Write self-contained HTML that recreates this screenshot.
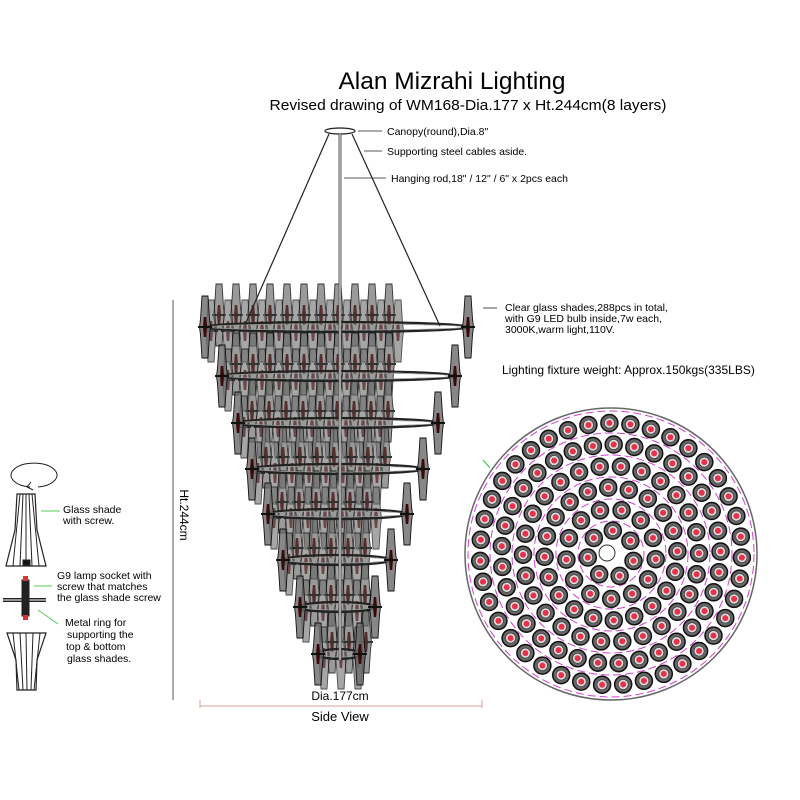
<!DOCTYPE html>
<html><head><meta charset="utf-8"><style>
html,body{margin:0;padding:0;background:#fff;}
svg{display:block;font-family:"Liberation Sans",sans-serif;}
</style></head><body>
<svg id="s" width="800" height="800" viewBox="0 0 800 800" xmlns="http://www.w3.org/2000/svg">
<defs>
<g id="shade">
<path d="M-3,-31 L3,-31 L4.5,-8 L5.5,0 L4.5,8 L3,31 L-3,31 L-4.5,8 L-5.5,0 L-4.5,-8 Z" fill="#6a6a6a" fill-opacity="0.8" stroke="#111" stroke-width="0.9"/>
<path d="M-1.2,-10 L1.2,-10 L2,0 L1.2,10 L-1.2,10 L-2,0Z" fill="#3a0a0a"/>
<line x1="-7" y1="0" x2="7" y2="0" stroke="#111" stroke-width="2"/>
</g>
<g id="dot">
<circle r="8.5" fill="#666" stroke="#111" stroke-width="1.5"/>
<circle r="5" fill="#ddd" stroke="#333" stroke-width="0.6"/>
<circle r="3" fill="#e8314a"/>
</g>
</defs>
<text x="452" y="89" font-size="24" text-anchor="middle" textLength="227" lengthAdjust="spacingAndGlyphs">Alan Mizrahi Lighting</text>
<text x="468" y="110" font-size="15" text-anchor="middle" textLength="397" lengthAdjust="spacingAndGlyphs">Revised drawing of WM168-Dia.177 x Ht.244cm(8 layers)</text>

<g id="side"></g>
<ellipse cx="340" cy="131" rx="15" ry="3" fill="#fff" stroke="#222" stroke-width="1.2"/>
<line x1="340" y1="134" x2="340" y2="660" stroke="#555" stroke-width="3"/>
<line x1="340" y1="134" x2="340" y2="660" stroke="#eee" stroke-width="1"/>
<line x1="329" y1="134" x2="245" y2="325" stroke="#222" stroke-width="1.2"/>
<line x1="352" y1="134" x2="440" y2="326" stroke="#222" stroke-width="1.2"/>

<g stroke="#222" stroke-width="0.8" font-size="10.5">
<line x1="358" y1="131" x2="382" y2="131"/><text x="387" y="135" stroke="none">Canopy(round),Dia.8"</text>
<line x1="364" y1="151" x2="382" y2="151"/><text x="387" y="155" stroke="none">Supporting steel cables aside.</text>
<line x1="344" y1="178" x2="386" y2="178"/><text x="391" y="182" stroke="none">Hanging rod,18" / 12" / 6" x 2pcs each</text>
<line x1="483" y1="308" x2="497" y2="308"/>
<text x="505" y="311" stroke="none">Clear glass shades,288pcs in total,</text>
<text x="505" y="322" stroke="none">with G9 LED bulb inside,7w each,</text>
<text x="505" y="333" stroke="none">3000K,warm light,110V.</text>
</g>
<text x="502" y="374" font-size="12">Lighting fixture weight: Approx.150kgs(335LBS)</text>

<line x1="173" y1="300" x2="173" y2="700" stroke="#555" stroke-width="1"/>
<text transform="translate(180,515) rotate(90)" font-size="12" text-anchor="middle">Ht.244cm</text>
<line x1="200" y1="706" x2="482" y2="706" stroke="#d9a0a0" stroke-width="1"/>
<line x1="200" y1="700" x2="200" y2="708" stroke="#d9a0a0"/><line x1="482" y1="700" x2="482" y2="708" stroke="#d9a0a0"/>
<text x="340" y="700" font-size="12" text-anchor="middle">Dia.177cm</text>
<text x="340" y="721" font-size="13" text-anchor="middle">Side View</text>

<g id="plan"></g>
<line x1="483" y1="460" x2="490" y2="468" stroke="#3c3" stroke-width="1"/>

<g stroke="#222" fill="none" stroke-width="1">
<path d="M30,487 A23,12 0 1 1 38,487" />
<path d="M31,482 L27,487 L33,490" />
<path d="M17,494 L35,494 L37,530 L46,566 L6,566 L15,530 Z" fill="#fff" stroke-width="1.2"/>
<path d="M20,494 L13,566 M23,494 L20,566 M26,494 L26,566 M29,494 L32,566 M32,494 L39,566"/>
<rect x="23" y="560" width="7" height="5" fill="#111"/>
<line x1="3" y1="600" x2="46" y2="600" stroke-width="4"/>
<line x1="3" y1="600" x2="46" y2="600" stroke="#bbb" stroke-width="1.5"/>
<rect x="22" y="580" width="7" height="36" fill="#222"/>
<rect x="23" y="576" width="5" height="5" fill="#d33" stroke="none"/>
<rect x="23" y="615" width="5" height="5" fill="#d33" stroke="none"/>
<path d="M7,633 L46,633 L37,660 L36,690 L17,690 L16,660 Z" fill="#fff" stroke-width="1.2"/>
<path d="M13,633 L19,690 M20,633 L23,690 M26,633 L27,690 M33,633 L31,690 M40,633 L34,690"/>
</g>
<g stroke="#5c5" stroke-width="1"><line x1="41" y1="511" x2="60" y2="511"/><line x1="34" y1="586" x2="52" y2="586"/><line x1="38" y1="610" x2="58" y2="624"/></g>
<g font-size="10.5">
<text x="63" y="513">Glass shade</text><text x="63" y="524">with screw.</text>
<text x="57" y="579">G9 lamp socket with</text><text x="57" y="590">screw that matches</text><text x="57" y="601">the glass shade screw</text>
<text x="65" y="626">Metal ring for</text><text x="67" y="638">supporting the</text><text x="66" y="650">top &amp; bottom</text><text x="67" y="662">glass shades.</text>
</g>
</svg>
<script>
var NS="http://www.w3.org/2000/svg";
function el(t,a,p){var e=document.createElementNS(NS,t);for(var k in a)e.setAttribute(k,a[k]);p.appendChild(e);return e;}
var side=document.getElementById("side");
var rings=[[327,205,468],[376,222,455],[423,238,438],[469,252,423],[514,268,407],[560,283,391],[607,300,375],[654,318,360]];
rings.forEach(function(r,i){
  var y=r[0],L=r[1];
  for(var x=L+14;x<=402-i*5;x+=17){el("use",{href:"#shade",x:x,y:y-12,opacity:0.85},side);}
  for(var x=L+6;x<=398-i*5;x+=17){el("use",{href:"#shade",x:x,y:y+4,opacity:0.75},side);}
});
rings.forEach(function(r){
  var y=r[0],L=r[1],R=r[2],cx=(L+R)/2,rx=(R-L)/2;
  el("ellipse",{cx:cx,cy:y,rx:rx,ry:5,fill:"none",stroke:"#222","stroke-width":2.2},side);
  el("ellipse",{cx:cx,cy:y,rx:rx-2,ry:3,fill:"none",stroke:"#999","stroke-width":0.8},side);
  el("use",{href:"#shade",x:R,y:y},side);
  el("use",{href:"#shade",x:L,y:y},side);
});
var plan=document.getElementById("plan"),cx=611,cy=554;
el("circle",{cx:cx,cy:cy,r:146,fill:"#fff",stroke:"#666","stroke-width":1.5},plan);
for(var k=1;k<=6;k++){el("circle",{cx:cx,cy:cy,r:k*22+11,fill:"none",stroke:"#d040d0","stroke-width":1,"stroke-dasharray":"8 4"},plan);}
for(var k=1;k<=6;k++){
  var r=k*21.5+2,n=Math.round(2*Math.PI*r/21);
  for(var j=0;j<n;j++){var a=j*2*Math.PI/n+k*0.3;
    el("use",{href:"#dot",x:(cx+r*Math.cos(a)).toFixed(1),y:(cy+r*Math.sin(a)).toFixed(1)},plan);}
}
el("circle",{cx:cx-4,cy:cy-1,r:8,fill:"#fff",stroke:"#333","stroke-width":1},plan);
</script>
</body></html>
